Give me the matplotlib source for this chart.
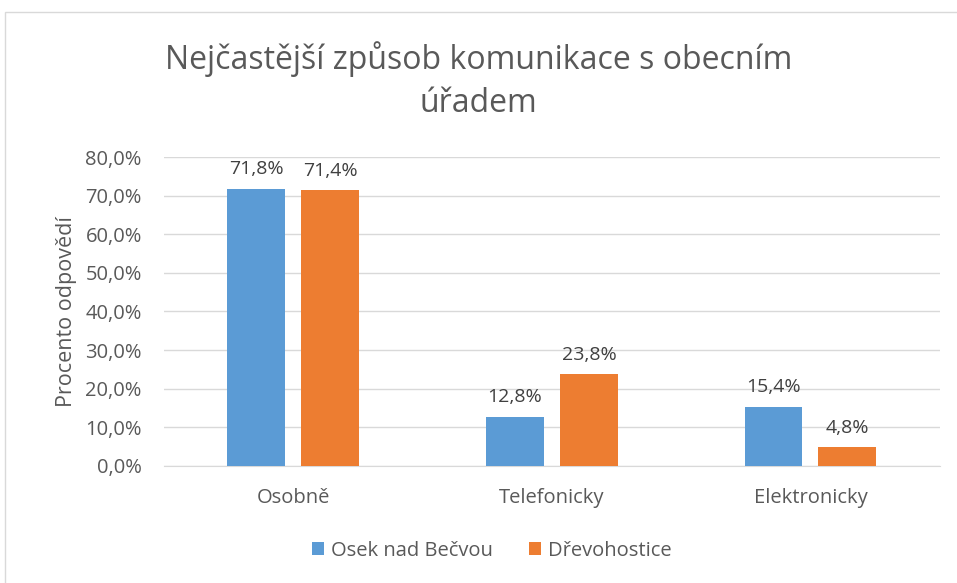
import matplotlib
matplotlib.use("Agg")
import matplotlib.pyplot as plt
from matplotlib.patches import Rectangle
import numpy as np

categories = ["Osobně", "Telefonicky", "Elektronicky"]
osek = [71.8, 12.8, 15.4]
drevohostice = [71.4, 23.8, 4.8]
series_names = ["Osek nad Bečvou", "Dřevohostice"]
yticks = [0, 10, 20, 30, 40, 50, 60, 70, 80]

plt.rcParams["font.family"] = ["Open Sans", "DejaVu Sans"]
TEXT = "#595959"

fig = plt.figure(figsize=(9.57, 5.83), dpi=100)
ax = fig.add_axes([0.1714, 0.2007, 0.8106, 0.53])

# chart border
fig.patches.append(Rectangle((0.005, -0.01), 1.2, 0.989, transform=fig.transFigure,
                             fill=False, edgecolor="#d9d9d9", linewidth=1))

x = np.arange(len(categories))
w = 0.224
off = 0.143
b1 = ax.bar(x - off, osek, w, color="#5B9BD5", label=series_names[0], zorder=3)
b2 = ax.bar(x + off, drevohostice, w, color="#ED7D31", label=series_names[1], zorder=3)

for bars, vals in ((b1, osek), (b2, drevohostice)):
    for rect, v in zip(bars, vals):
        ax.annotate(f"{v:.1f}%".replace(".", ","),
                    (rect.get_x() + rect.get_width() / 2, v),
                    xytext=(0, 14), textcoords="offset points",
                    ha="center", va="center", fontsize=14, color="#404040")

ax.set_xlim(-0.5, 2.5)
ax.set_ylim(0, 80)
ax.set_yticks(yticks)
ax.set_yticklabels([f"{t:.1f}%".replace(".", ",") for t in yticks])
ax.set_xticks(x)
ax.set_xticklabels(categories)
ax.tick_params(axis="both", length=0, labelsize=14.5, colors=TEXT)
ax.tick_params(axis="x", pad=16)
ax.tick_params(axis="y", pad=16)
ax.grid(axis="y", color="#d9d9d9", linewidth=1, zorder=0)
for s in ["top", "right", "left"]:
    ax.spines[s].set_visible(False)
ax.spines["bottom"].set_color("#d9d9d9")

ax.set_ylabel("Procento odpovědí", fontsize=15.5, color=TEXT, labelpad=6)

fig.text(0.5, 0.861, "Nejčastější způsob komunikace s obecním\núřadem",
         ha="center", va="center", fontsize=23, color=TEXT, linespacing=1.4)

fig.legend(loc="center", bbox_to_anchor=(0.514, 0.055), ncol=2, frameon=False,
           fontsize=14.5, handlelength=0.6, handleheight=0.6, columnspacing=1.8,
           handletextpad=0.35, labelcolor=TEXT)

fig.savefig("out.png", dpi=100)
